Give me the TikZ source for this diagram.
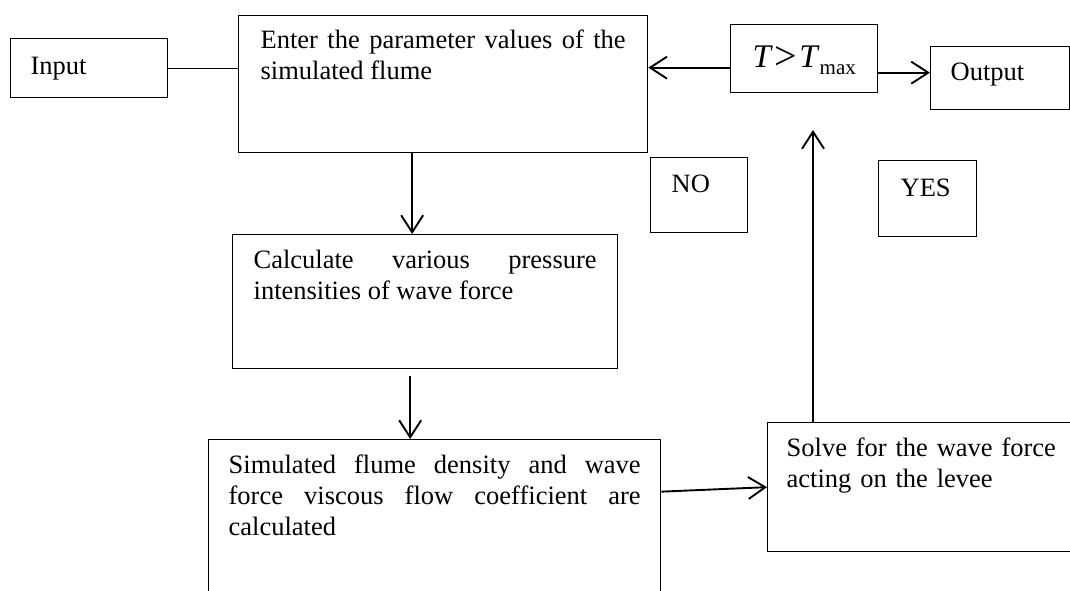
\documentclass[tikz,border=0pt]{standalone}
\usepackage{fontspec}
\setmainfont{Liberation Serif}
\usepackage{tikz}
\usetikzlibrary{arrows.meta}
\tolerance=10000
\hyphenpenalty=10000
\exhyphenpenalty=10000

\begin{document}
\begin{tikzpicture}[x=1pt,y=-1pt,
		box/.style={draw,line width=1.3pt,anchor=north west,inner ysep=0pt,align=justify,font=\fontsize{26.5}{31}\selectfont},
		arr/.style={line width=1.9pt,-{Straight Barb[length=17pt,width=22pt]}}]
	\useasboundingbox (0,0) rectangle (1070,590);
	\node[box,inner xsep=20pt,text width=117pt,text height=36pt,text depth=23pt,align=left] (input) at (10,38) {Input};
	\node[box,inner xsep=22pt,text width=365pt,text height=33pt,text depth=104pt] (enter) at (238,15) {Enter the parameter values of the simulated flume};
	\node[box,inner xsep=0pt,text width=147pt,text height=43pt,text depth=25pt,align=center] (test) at (730,24) {{\fontsize{33}{33}\selectfont\textit{T}\kern2pt\raisebox{-2pt}{\fontsize{40}{40}\selectfont >}\kern2pt\textit{T}}\raisebox{-7pt}{\fontsize{21}{21}\selectfont max}};
	\node[box,inner xsep=20pt,text width=99pt,text height=34pt,text depth=29pt,align=left] (output) at (930,46) {Output};
	\node[box,inner xsep=21pt,text width=55pt,text height=35pt,text depth=40pt,align=left] (no) at (650,157) {NO};
	\node[box,inner xsep=22pt,text width=54pt,text height=36pt,text depth=40pt,align=left] (yes) at (878,160) {YES};
	\node[box,inner xsep=21pt,text width=343pt,text height=34pt,text depth=100pt] (calc) at (232,234) {Calculate various pressure intensities of wave force};
	\node[box,inner xsep=20pt,text width=412pt,text height=34pt,text depth=150pt] (sim) at (208,439) {Simulated flume density and wave force viscous flow coefficient are calculated};
	\node[box,inner xsep=19pt,text width=284pt,text height=34pt,text depth=95pt,align=left] (solve) at (767,422) {Solve for the wave force acting on the levee};
	\coordinate (yestip) at (813,130);
	\draw[line width=1.3pt] (input.east) -- (input.east -| enter.west);
	\draw[arr] ([yshift=-9pt]test.west) -- ([yshift=-9pt]test.west -| enter.east);
	\draw[arr] ([yshift=-14pt]test.east) -- ([yshift=-14pt]test.east -| output.west);
	\draw[arr] ([xshift=-31pt]enter.south) -- ([xshift=-31pt]enter.south |- calc.north);
	\draw[arr,shorten <=7pt] ([xshift=-15pt]calc.south) -- ([xshift=-15pt]calc.south |- sim.north);
	\draw[arr] ([yshift=40pt]sim.east) -- (solve.west);
	\draw[arr] (yestip |- solve.north) -- (yestip);
\end{tikzpicture}
\end{document}
